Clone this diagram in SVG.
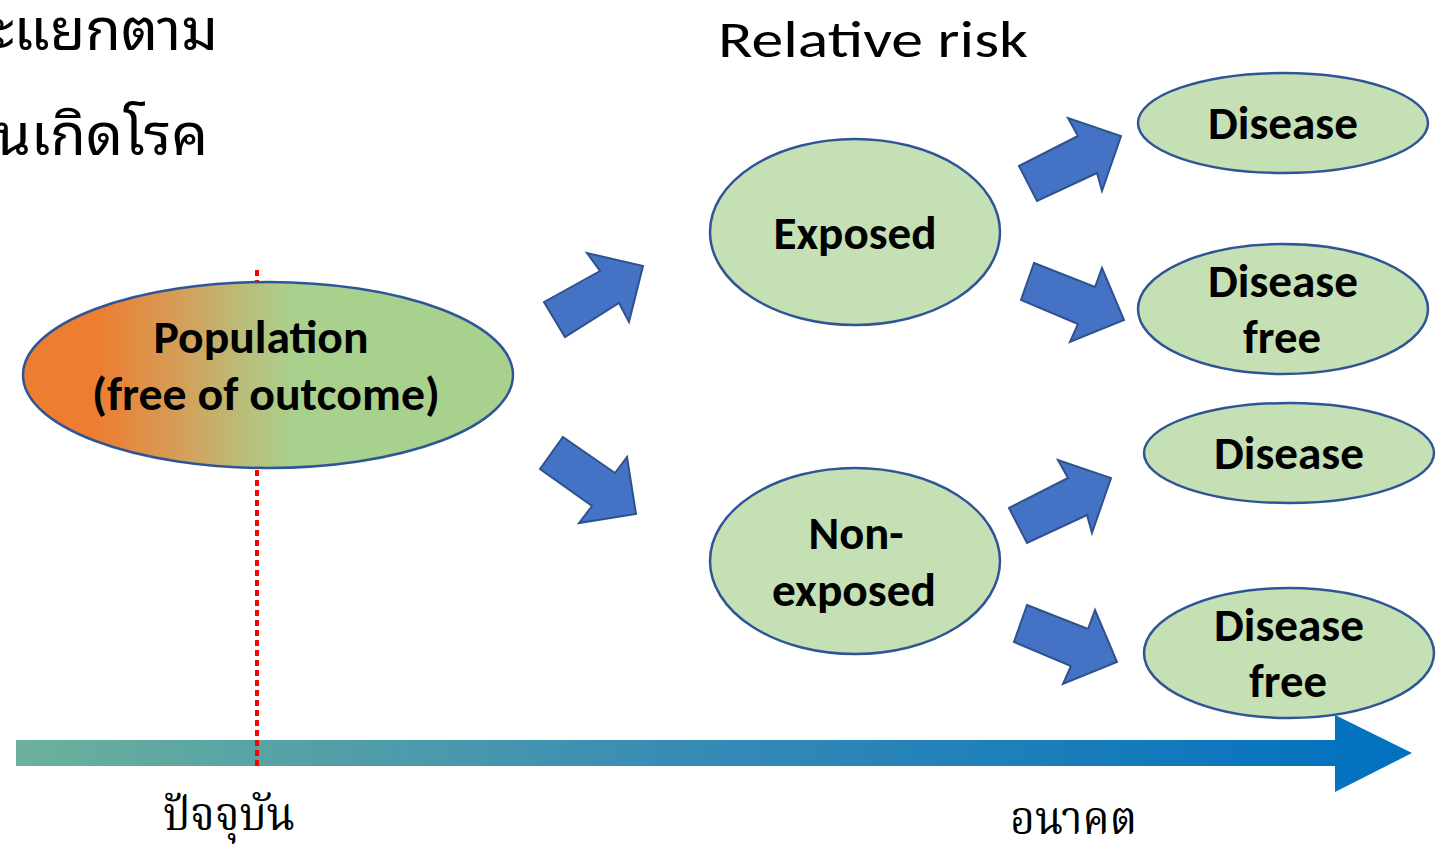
<svg xmlns="http://www.w3.org/2000/svg" width="1445" height="848" viewBox="0 0 1445 848">
  <defs>
    <linearGradient id="popFill" x1="0" y1="0" x2="1" y2="0">
      <stop offset="0" stop-color="#ED7D31"/>
      <stop offset="0.15" stop-color="#ED7D31"/>
      <stop offset="0.33" stop-color="#D3A05A"/>
      <stop offset="0.45" stop-color="#B9BE7A"/>
      <stop offset="0.56" stop-color="#A9D18E"/>
      <stop offset="1" stop-color="#A9D18E"/>
    </linearGradient>
    <linearGradient id="timeFill" x1="16" y1="0" x2="1412" y2="0" gradientUnits="userSpaceOnUse">
      <stop offset="0" stop-color="#6BB19C"/>
      <stop offset="0.45" stop-color="#3A8DB4"/>
      <stop offset="1" stop-color="#0070C0"/>
    </linearGradient>
  </defs>
  <style>
    .node { fill: #C5E0B4; stroke: #2F5597; stroke-width: 2.5; }
    .label { font-family: "Carlito", "Lato", "Liberation Sans", sans-serif; font-weight: bold; font-size: 46px; fill: #000; text-anchor: middle; }
    .block { fill: #4472C4; stroke: #2F528F; stroke-width: 2; stroke-linejoin: miter; }
    .thai { font-family: "Noto Sans Thai Looped", "Noto Sans Thai", "Noto Sans", sans-serif; font-size: 58px; fill: #000; }
    .thaiSerif { font-family: "Noto Serif Thai", "Noto Sans Thai", "Liberation Serif", serif; font-size: 46px; fill: #000; }
  </style>

  <rect width="1445" height="848" fill="#FFFFFF"/>

  <!-- heading text, running in from the left edge -->
  <text class="thai" x="218" y="50" text-anchor="end">จะแยกตาม</text>
  <text class="thai" x="208" y="155" text-anchor="end">คนเกิดโรค</text>
  <text x="718" y="57" font-family="Carlito, Lato, 'Liberation Sans', sans-serif" font-size="52" textLength="310" lengthAdjust="spacingAndGlyphs" fill="#000">Relative risk</text>

  <!-- time axis -->
  <g id="timeline">
    <polygon points="16,740 1335,740 1335,715 1412,753 1335,792 1335,766 16,766" fill="url(#timeFill)"/>
    <text class="thaiSerif" x="163" y="830" textLength="132" lengthAdjust="spacingAndGlyphs">ปัจจุบัน</text>
    <text class="thaiSerif" x="1010" y="834" textLength="127" lengthAdjust="spacingAndGlyphs">อนาคต</text>
  </g>

  <!-- present-time marker -->
  <line x1="257" y1="270" x2="257" y2="768" stroke="#FF0000" stroke-width="4" stroke-dasharray="6 4"/>

  <!-- block arrows -->
  <g id="connectors">
    <polygon class="block" points="544,302 600,271 587,253 643,266 629,322 619,303 565,337"/>
    <polygon class="block" points="563,437 615,473 627,457 636,514 579,523 592,506 540,469"/>
    <polygon class="block" points="1019,166 1078,136 1068,118 1121,136 1102,191 1097,173 1037,201"/>
    <polygon class="block" points="1034,263 1095,287 1102,268 1124,320 1070,342 1078,324 1021,300"/>
    <polygon class="block" points="1009,508 1068,478 1058,460 1111,478 1092,533 1087,515 1027,543"/>
    <polygon class="block" points="1027,605 1088,629 1095,610 1117,662 1063,684 1071,666 1014,642"/>
  </g>

  <g id="population">
    <ellipse cx="268" cy="375" rx="245" ry="93" fill="url(#popFill)" stroke="#2F5597" stroke-width="2.5"/>
    <text class="label" x="261" y="353" textLength="215" lengthAdjust="spacingAndGlyphs">Population</text>
    <text class="label" x="266" y="410" textLength="348" lengthAdjust="spacingAndGlyphs">(free of outcome)</text>
  </g>

  <g id="exposed">
    <ellipse class="node" cx="855" cy="232" rx="145" ry="93"/>
    <text class="label" x="855" y="249" textLength="163" lengthAdjust="spacingAndGlyphs">Exposed</text>
  </g>

  <g id="non-exposed">
    <ellipse class="node" cx="855" cy="561" rx="145" ry="93"/>
    <text class="label" x="856" y="549" textLength="95" lengthAdjust="spacingAndGlyphs">Non-</text>
    <text class="label" x="854" y="606" textLength="164" lengthAdjust="spacingAndGlyphs">exposed</text>
  </g>

  <g id="disease-exposed">
    <ellipse class="node" cx="1283" cy="123" rx="145" ry="50"/>
    <text class="label" x="1283" y="139" textLength="150" lengthAdjust="spacingAndGlyphs">Disease</text>
  </g>

  <g id="free-exposed">
    <ellipse class="node" cx="1283" cy="309" rx="145" ry="65"/>
    <text class="label" x="1283" y="297" textLength="150" lengthAdjust="spacingAndGlyphs">Disease</text>
    <text class="label" x="1282" y="353" textLength="78" lengthAdjust="spacingAndGlyphs">free</text>
  </g>

  <g id="disease-nonexposed">
    <ellipse class="node" cx="1289" cy="453" rx="145" ry="50"/>
    <text class="label" x="1289" y="469" textLength="150" lengthAdjust="spacingAndGlyphs">Disease</text>
  </g>

  <g id="free-nonexposed">
    <ellipse class="node" cx="1289" cy="653" rx="145" ry="65"/>
    <text class="label" x="1289" y="641" textLength="150" lengthAdjust="spacingAndGlyphs">Disease</text>
    <text class="label" x="1288" y="697" textLength="78" lengthAdjust="spacingAndGlyphs">free</text>
  </g>
</svg>
